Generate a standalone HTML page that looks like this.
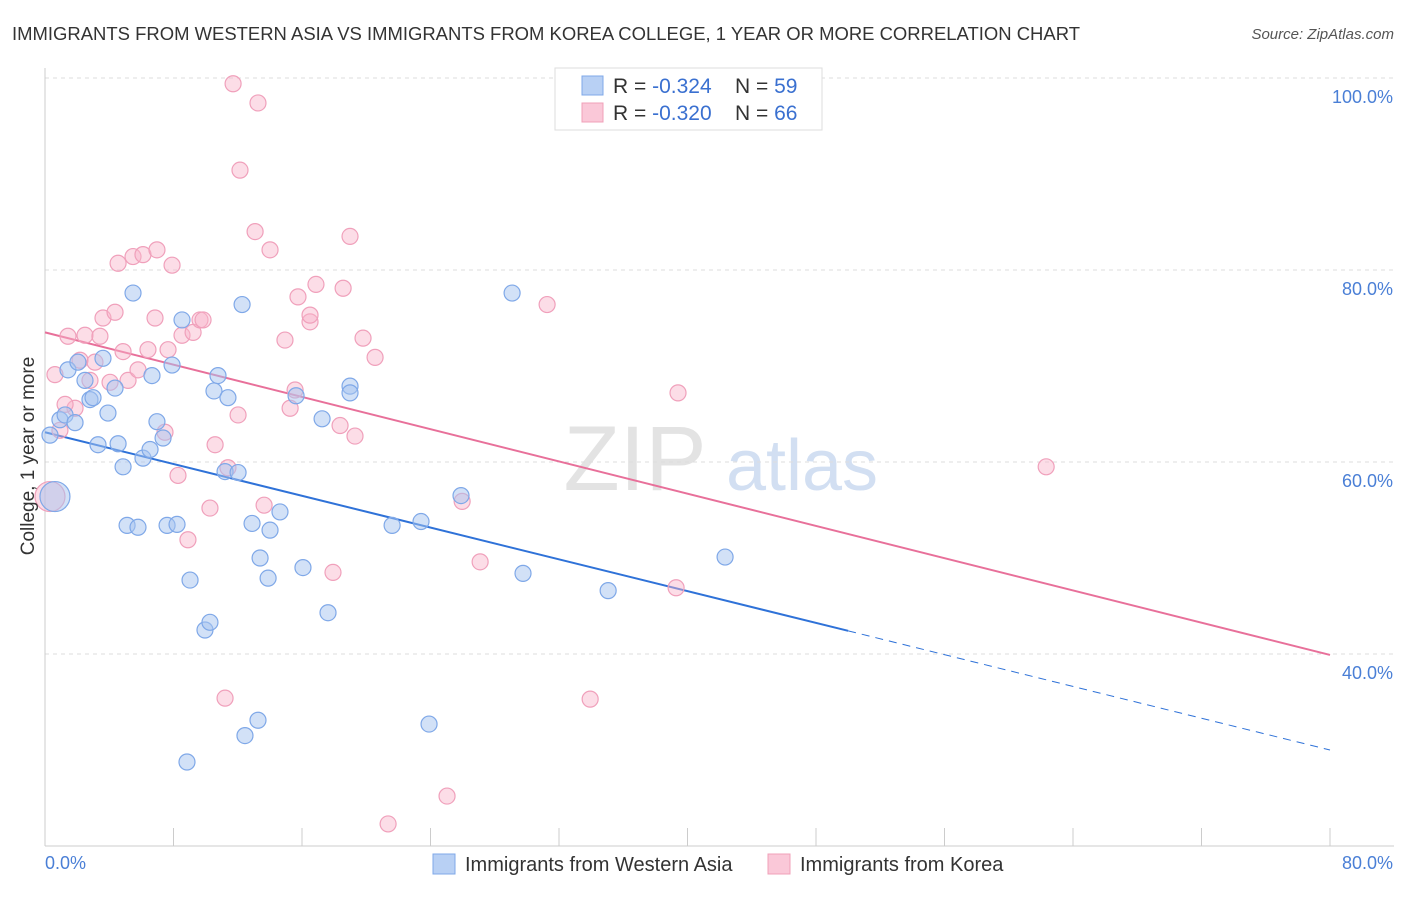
<!DOCTYPE html>
<html><head><meta charset="utf-8">
<style>
body{margin:0;background:#fff;font-family:"Liberation Sans",sans-serif;}
svg text{font-family:"Liberation Sans",sans-serif;}
</style></head>
<body>
<svg id="chart" width="1406" height="892" xmlns="http://www.w3.org/2000/svg">
<text x="12" y="40" font-size="18.5" fill="#333" textLength="1068" lengthAdjust="spacingAndGlyphs">IMMIGRANTS FROM WESTERN ASIA VS IMMIGRANTS FROM KOREA COLLEGE, 1 YEAR OR MORE CORRELATION CHART</text>
<text x="1394" y="39" font-size="15" fill="#555" font-style="italic" text-anchor="end">Source: ZipAtlas.com</text>
<g>
<text x="635" y="490" font-size="92" fill="#ddd" font-family="Liberation Serif" text-anchor="middle" opacity="0.8">ZIP</text>
<text x="802" y="490" font-size="72" fill="#c8d8f0" text-anchor="middle" opacity="0.8">atlas</text>
</g>
<g id="grid"></g>
<g id="axes"></g>
<g id="trends"></g>
<g id="points"></g>
<text x="34" y="456" font-size="19" fill="#333" text-anchor="middle" transform="rotate(-90 34 456)">College, 1 year or more</text>
<g>
<rect x="555" y="68" width="267" height="62" fill="#fff" stroke="#ddd"/>
<rect x="582" y="76" width="21" height="19" fill="#b8d0f4" stroke="#7fa8e8"/>
<rect x="582" y="103" width="21" height="19" fill="#fac8d8" stroke="#f0a0b8"/>
<text x="613" y="93" font-size="21" fill="#333">R = <tspan fill="#3a70d0">-0.324</tspan><tspan x="735">N = </tspan><tspan fill="#3a70d0">59</tspan></text>
<text x="613" y="120" font-size="21" fill="#333">R = <tspan fill="#3a70d0">-0.320</tspan><tspan x="735">N = </tspan><tspan fill="#3a70d0">66</tspan></text>
</g>
<g>
<rect x="433" y="854" width="22" height="20" fill="#b8d0f4" stroke="#7fa8e8"/>
<text x="465" y="871" font-size="20" fill="#333">Immigrants from Western Asia</text>
<rect x="768" y="854" width="22" height="20" fill="#fac8d8" stroke="#f0a0b8"/>
<text x="800" y="871" font-size="20" fill="#333">Immigrants from Korea</text>
</g>
</svg>
<script>
const yTicks=[40,60,80,100];
const yTickLabels=["40.0%","60.0%","80.0%","100.0%"];
const xLabels=["0.0%","80.0%"];
const blueX=[0.31,0.62,0.93,1.25,1.43,1.87,2.05,2.49,2.80,2.99,3.30,3.61,3.92,4.36,4.55,4.86,5.11,5.48,5.79,6.10,6.54,6.66,6.97,7.35,7.60,7.91,8.22,8.53,9.03,9.96,10.27,10.52,10.77,11.21,11.39,12.02,12.27,12.89,13.39,13.89,14.01,14.63,15.63,16.06,17.25,17.62,18.99,18.99,21.61,23.41,23.91,25.90,29.08,29.76,35.06,42.34,12.45,13.26,8.84];
const blueY=[62.8,56.4,64.4,64.9,69.6,64.1,70.4,68.5,66.5,66.7,61.8,70.8,65.1,67.7,61.9,59.5,53.4,77.6,53.2,60.4,61.3,69.0,64.2,62.5,53.4,70.1,53.5,74.8,47.7,42.5,43.3,67.4,69.0,59.0,66.7,58.9,76.4,53.6,50.0,47.9,52.9,54.8,66.9,49.0,64.5,44.3,67.9,67.2,53.4,53.8,32.7,56.5,77.6,48.4,46.6,50.1,31.5,33.1,28.75];
const pinkX=[0.31,0.62,0.93,1.43,1.87,2.18,2.49,2.80,3.11,3.42,3.61,4.05,4.36,4.55,4.86,5.17,5.48,5.79,6.10,6.41,6.85,6.97,7.47,7.66,7.91,8.28,8.53,8.90,9.22,9.65,9.84,10.27,10.59,11.21,11.39,11.71,12.02,12.14,13.08,13.26,13.64,14.01,14.94,15.26,15.57,15.75,16.50,16.50,16.87,17.93,18.37,18.56,18.99,19.30,19.80,20.55,21.36,25.03,25.97,27.09,31.26,33.94,39.29,39.41,62.33,1.25];
const pinkY=[56.4,69.1,63.3,73.1,65.6,70.6,73.2,68.5,70.4,73.1,75.0,68.3,75.6,80.7,71.5,68.5,81.4,69.6,81.6,71.7,75.0,82.1,63.1,71.7,80.5,58.6,73.2,51.9,73.5,74.8,74.8,55.2,61.8,35.4,59.4,99.4,64.9,90.4,84.0,97.4,55.5,82.1,72.7,65.6,67.5,77.2,74.6,75.3,78.5,48.5,63.8,78.1,83.5,62.7,72.9,70.9,22.3,25.2,55.9,49.6,76.4,35.3,46.9,67.2,59.5,66.0];
const blueTrend=[63.1,30.0];
const pinkTrend=[73.5,39.9];
const NS="http://www.w3.org/2000/svg";
const X0=45,X1=1330,Y0=846,XMAX=80,YMIN=20,YMAX=100,YTOP=78;
function sx(v){return X0+v/XMAX*(X1-X0);}
function sy(v){return Y0-(v-YMIN)/(YMAX-YMIN)*(Y0-YTOP);}
function mk(tag,attrs,parent){const e=document.createElementNS(NS,tag);for(const k in attrs)e.setAttribute(k,attrs[k]);parent.appendChild(e);return e;}
const grid=document.getElementById('grid'),axes=document.getElementById('axes'),trends=document.getElementById('trends'),pts=document.getElementById('points');
yTicks.forEach((t,i)=>{
 const l=mk('line',{x1:X0,x2:1394,y1:sy(t),y2:sy(t),stroke:'#ddd','stroke-dasharray':'4,4'},grid);
 
 
 const tx=mk('text',{x:1393,y:sy(t)+25,'font-size':18,fill:'#4a7fd6','text-anchor':'end'},axes);
 tx.textContent=yTickLabels[i];
 
 
});
const ax=mk('line',{x1:X0,x2:X0,y1:68,y2:Y0,stroke:'#ccc'},axes);


const bx=mk('line',{x1:X0,x2:1394,y1:Y0,y2:Y0,stroke:'#ccc'},axes);


for(let i=0;i<=10;i++){
 const v=i*8;
 const t=mk('line',{x1:sx(v),x2:sx(v),y1:828,y2:Y0,stroke:'#ccc'},axes);
 
 
}
[[0,'start'],[80,'end']].forEach((p,i)=>{
 const tx=mk('text',{x:i?1393:45,y:869,'font-size':18,fill:'#4a7fd6','text-anchor':p[1]},axes);
 tx.textContent=xLabels[i];
 
 
});
function drawPts(xs,ys,fill,stroke,name){
 xs.forEach((x,i)=>{
  const big=i===(name==='blue-point'?1:0);
  const c=mk('circle',{cx:sx(x),cy:sy(ys[i]),r:big?15:8,fill:fill,stroke:stroke,'stroke-width':1.2},pts);
  
  
 });
}
drawPts(pinkX,pinkY,'rgba(248,180,202,0.45)','#f0a0bb','pink-point');
drawPts(blueX,blueY,'rgba(165,195,240,0.5)','#7fa8e8','blue-point');
function ty(tr,x){return tr[0]+(tr[1]-tr[0])*x/XMAX;}
const pl=mk('line',{x1:sx(0),y1:sy(ty(pinkTrend,0)),x2:sx(80),y2:sy(ty(pinkTrend,80)),stroke:'#e8709a','stroke-width':2},trends);


const bl=mk('line',{x1:sx(0),y1:sy(ty(blueTrend,0)),x2:sx(50),y2:sy(ty(blueTrend,50)),stroke:'#2f72d8','stroke-width':2},trends);


const bd=mk('line',{x1:sx(50),y1:sy(ty(blueTrend,50)),x2:sx(80),y2:sy(ty(blueTrend,80)),stroke:'#2f72d8','stroke-width':1,'stroke-dasharray':'8,6'},trends);


</script>
</body></html>
